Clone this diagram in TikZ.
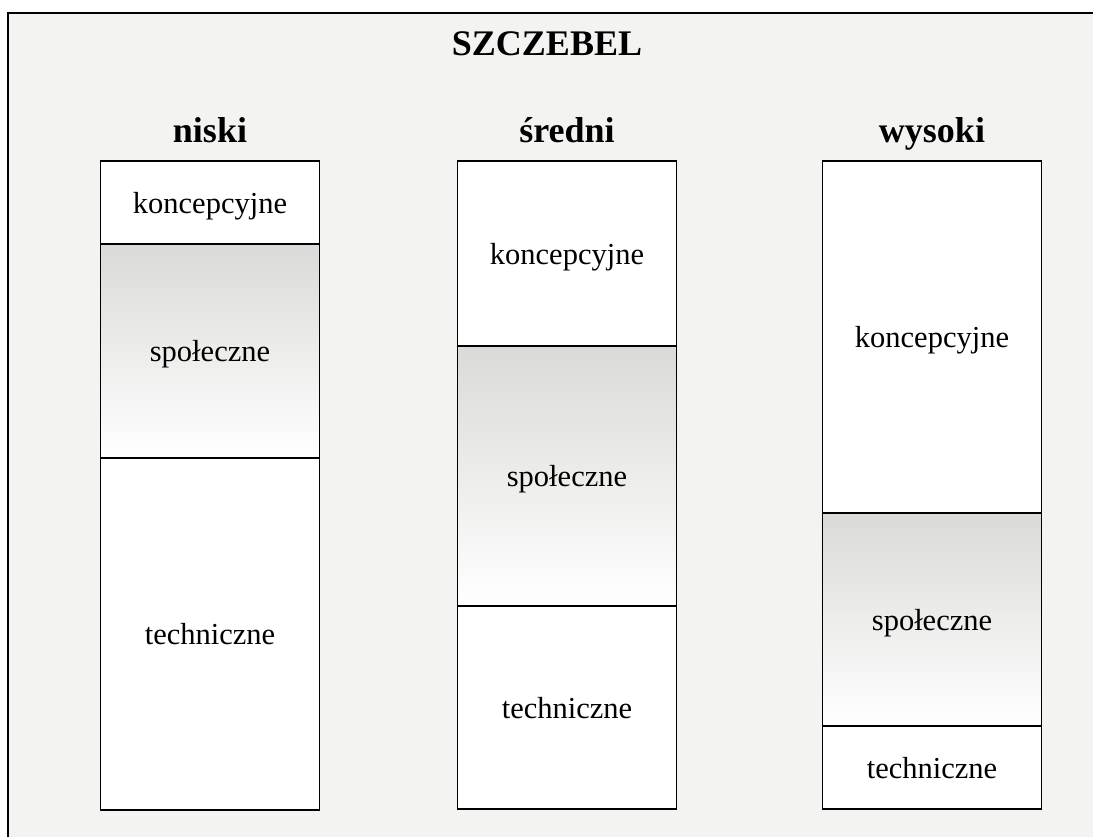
\documentclass[tikz,border=0pt]{standalone}
\usepackage{fontspec}
\setmainfont{Liberation Serif}
\definecolor{paper}{HTML}{F3F3F1}
\definecolor{shade}{HTML}{DADAD8}
\definecolor{shademid}{HTML}{EEEEEC}
\tikzset{
  cell/.style={draw=black, line width=1.5pt, fill=white, inner sep=0pt, outer sep=0pt,
    minimum width=219pt, anchor=north, text depth=0pt, font=\fontsize{30.5}{36}\selectfont},
  social/.style={cell, top color=shade, middle color=shademid, bottom color=white},
  heading/.style={anchor=base, font=\bfseries\fontsize{36}{42}\selectfont},
}
\begin{document}
\begin{tikzpicture}[x=1pt,y=-1pt]
\useasboundingbox (0,0) rectangle (1093,837);
\fill[white] (0,0) rectangle (1093,837);
\fill[paper] (8,13) rectangle (1093,837);
\coordinate (ftop) at (1093,13);
\coordinate (fcorner) at (8,13);
\coordinate (fbot) at (8,837);
\draw[line width=1.3pt] (ftop) -- (fcorner) -- (fbot);

\node[heading] (title) at (547,56) {SZCZEBEL};
\node[heading] (h1) at (210,143) {niski};
\node[heading] (h2) at (567,143) {średni};
\node[heading] (h3) at (932,143) {wysoki};

% column 1
\node[cell, minimum height=83pt] (k1) at (210,161) {koncepcyjne};
\node[social, minimum height=214pt] (s1) at (k1.south) {społeczne};
\node[cell, minimum height=352pt] (t1) at (s1.south) {techniczne};
% column 2
\node[cell, minimum height=185pt] (k2) at (567,161) {koncepcyjne};
\node[social, minimum height=260pt] (s2) at (k2.south) {społeczne};
\node[cell, minimum height=203pt] (t2) at (s2.south) {techniczne};
% column 3
\node[cell, minimum height=352pt] (k3) at (932,161) {koncepcyjne};
\node[social, minimum height=213pt] (s3) at (k3.south) {społeczne};
\node[cell, minimum height=83pt] (t3) at (s3.south) {techniczne};
\end{tikzpicture}
\end{document}
